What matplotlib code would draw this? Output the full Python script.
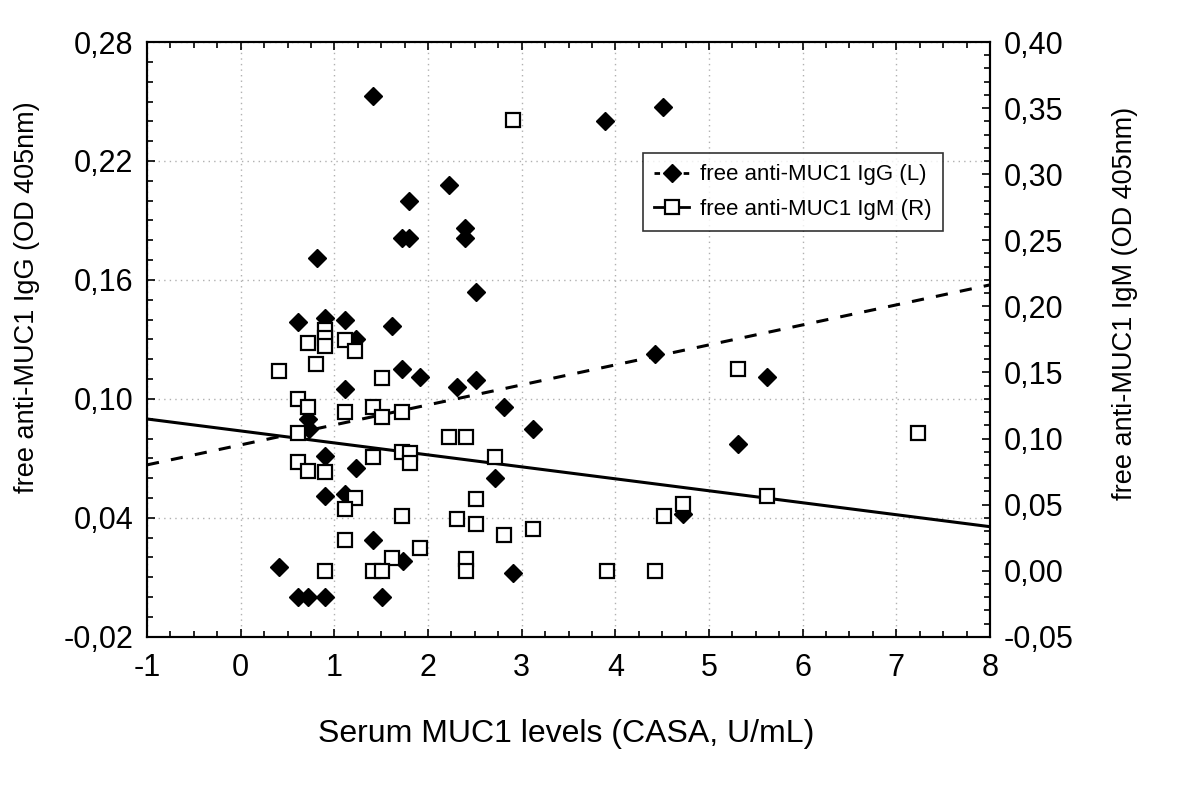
import numpy as np
import matplotlib
matplotlib.use('Agg')
import matplotlib.pyplot as plt
from matplotlib.ticker import MultipleLocator, FixedLocator, FuncFormatter
from matplotlib.lines import Line2D

plt.rcParams['font.family'] = ['Liberation Sans', 'DejaVu Sans']
plt.rcParams['axes.unicode_minus'] = False

# serum MUC1 (x) and free anti-MUC1 IgG (left axis)
igg_x = [1.41, 3.89, 4.51, 2.22, 1.80, 1.72, 1.80, 2.40, 2.40, 0.81,
         2.51, 0.61, 0.90, 1.11, 1.62, 1.23, 1.72, 1.91, 2.31, 2.51,
         1.115, 2.81, 3.12, 0.72, 0.73, 0.905, 1.23, 2.72, 0.905, 1.11,
         1.41, 1.73, 0.405, 2.91, 0.61, 0.72, 0.905, 1.51, 4.42, 5.62,
         5.31, 4.72]
igg_y = [0.253, 0.240, 0.247, 0.208, 0.200, 0.181, 0.181, 0.186, 0.181, 0.171,
         0.154, 0.139, 0.141, 0.140, 0.137, 0.130, 0.115, 0.111, 0.106, 0.1095,
         0.105, 0.096, 0.085, 0.090, 0.085, 0.071, 0.065, 0.060, 0.051, 0.052,
         0.029, 0.018, 0.015, 0.012, 0.0, 0.0, 0.0, 0.0, 0.1225, 0.111,
         0.077, 0.042]

# serum MUC1 (x) and free anti-MUC1 IgM (right axis)
igm_x = [2.91, 0.905, 0.905, 0.905, 0.72, 1.115, 1.22, 0.806, 0.405, 1.51,
         0.613, 0.72, 1.115, 1.41, 1.51, 1.72, 0.613, 2.22, 2.41, 1.72,
         1.81, 1.81, 1.41, 2.72, 0.613, 0.72, 0.905, 1.22, 1.115, 2.51,
         1.72, 2.31, 2.51, 2.81, 3.12, 1.115, 1.91, 1.62, 2.41, 2.41,
         0.905, 1.41, 1.51, 5.31, 7.23, 5.62, 4.72, 4.52, 3.91, 4.42]
igm_y = [0.341, 0.182, 0.176, 0.170, 0.1725, 0.1746, 0.1665, 0.1564, 0.1514, 0.1456,
         0.1297, 0.1237, 0.1199, 0.1237, 0.1166, 0.1199, 0.104, 0.1014, 0.1014, 0.0897,
         0.0889, 0.0813, 0.0863, 0.0863, 0.082, 0.0757, 0.0745, 0.0548, 0.0467, 0.054,
         0.0414, 0.0392, 0.0354, 0.0268, 0.0318, 0.0233, 0.017, 0.0094, 0.0087, 0.0,
         0.0, 0.0, 0.0, 0.1527, 0.104, 0.0566, 0.0505, 0.0414, 0.0, 0.0]

# regression lines, read at the ends of the x range
fit_x = [-1, 8]
igg_fit = [0.0667, 0.1575]
igm_fit = [0.1148, 0.0333]

left_ticks = [-0.02, 0.04, 0.10, 0.16, 0.22, 0.28]

TICK_FS = 22
LABEL_FS = 19.5


def comma(v, pos):
    return f'{v:.2f}'.replace('.', ',')


fig = plt.figure(figsize=(12, 7.93), dpi=100)
ax = fig.add_axes([0.1225, 0.197, 0.7025, 0.750])
ax2 = ax.twinx()

ax.grid(True, which='major', color='#b0b0b0', linestyle=(0, (1, 3)), linewidth=1)
ax.set_axisbelow(True)

ax.plot(fit_x, igg_fit, color='black', lw=2.2, dashes=(4, 4), zorder=2)
ax.plot(igg_x, igg_y, 'D', color='black', ms=9, zorder=3)

ax2.plot(fit_x, igm_fit, color='black', lw=2.2, zorder=2)
ax2.plot(igm_x, igm_y, 's', mfc='white', mec='black', mew=1.6, ms=9.8, zorder=3)

ax.set_xlim(-1, 8)
ax.set_ylim(-0.02, 0.28)
ax2.set_ylim(-0.05, 0.40)

ax.xaxis.set_major_locator(MultipleLocator(1))
ax.xaxis.set_minor_locator(MultipleLocator(0.25))
ax.yaxis.set_major_locator(FixedLocator(left_ticks))
ax.yaxis.set_minor_locator(MultipleLocator(0.01))
ax2.yaxis.set_major_locator(MultipleLocator(0.05))
ax2.yaxis.set_minor_locator(MultipleLocator(0.01))
ax.yaxis.set_major_formatter(FuncFormatter(comma))
ax2.yaxis.set_major_formatter(FuncFormatter(comma))

ax.tick_params(axis='x', which='both', direction='in', top=True, bottom=True,
               labelsize=TICK_FS, pad=12)
ax.tick_params(axis='y', which='both', direction='in', left=True, right=False,
               labelsize=TICK_FS, pad=10)
ax2.tick_params(axis='y', which='both', direction='in', labelsize=TICK_FS, pad=10)
for a in (ax, ax2):
    a.tick_params(which='major', length=6, width=1.2)
    a.tick_params(which='minor', length=4, width=1.2)
    for s in a.spines.values():
        s.set_linewidth(1.5)

ax.set_xlabel('Serum MUC1 levels (CASA, U/mL)', fontsize=23)
ax.set_ylabel('free anti-MUC1 IgG (OD 405nm)', fontsize=LABEL_FS)
ax2.set_ylabel('free anti-MUC1 IgM (OD 405nm)', fontsize=LABEL_FS)
ax.xaxis.set_label_coords(0.497, -0.139)
ax.yaxis.set_label_coords(-0.127, 0.571)
ax2.yaxis.set_label_coords(1.145, 0.561)

handles = [
    Line2D([], [], color='black', lw=2, dashes=(2, 1.5), marker='D', ms=9),
    Line2D([], [], color='black', lw=2, marker='s', mfc='white', mec='black',
           mew=1.6, ms=9.8),
]
leg = ax2.legend(handles, ['free anti-MUC1 IgG (L)', 'free anti-MUC1 IgM (R)'],
                 loc='upper left', bbox_to_anchor=(0.588, 0.813),
                 fontsize=16, frameon=True, fancybox=False, edgecolor='black',
                 handlelength=1.6, handletextpad=0.5, borderpad=0.5,
                 labelspacing=0.6, borderaxespad=0)
leg.get_frame().set_linewidth(1.2)

fig.savefig('out.png', dpi=100)
